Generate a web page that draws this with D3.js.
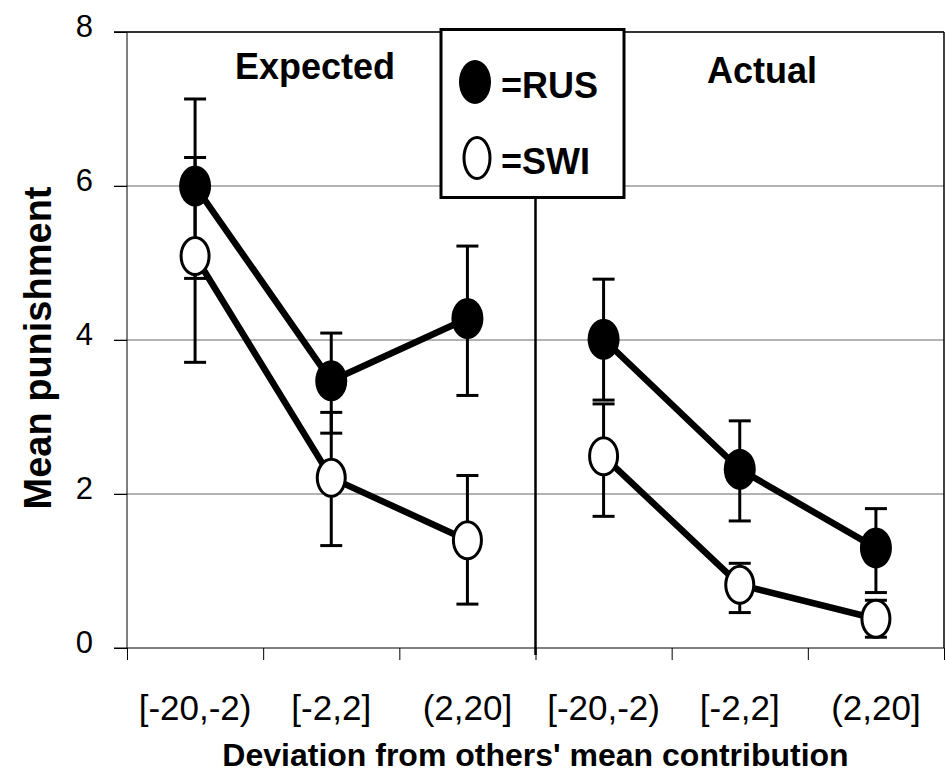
<!DOCTYPE html>
<html>
<head>
<meta charset="utf-8">
<script src="https://cdn.jsdelivr.net/npm/d3@7"></script>
<style>
  body { margin: 0; background: #fff; }
  svg { display: block; font-family: "Liberation Sans", Arial, sans-serif; }
</style>
</head>
<body>
<div id="chart"></div>
<script>
var chart_width = 946
var chart_height = 776

// data
var categories = ['[-20,-2)', '[-2,2]', '(2,20]', '[-20,-2)', '[-2,2]', '(2,20]']
var panels = ['Expected', 'Actual']
var rus_mean = [6.00, 3.47, 4.28, 4.01, 2.32, 1.30]
var rus_low = [4.80, 2.79, 3.28, 3.22, 1.65, 0.72]
var rus_high = [7.13, 4.09, 5.22, 4.79, 2.95, 1.81]
var swi_mean = [5.09, 2.21, 1.40, 2.49, 0.82, 0.38]
var swi_low = [3.71, 1.33, 0.57, 1.71, 0.46, 0.14]
var swi_high = [6.37, 3.06, 2.24, 3.17, 1.10, 0.62]
var y_ticks = [0, 2, 4, 6, 8]

var plot_left = 127, plot_right = 944, plot_top = 32, plot_bottom = 648

var svg = d3.select('#chart')
  .append('svg')
  .attr('width', chart_width)
  .attr('height', chart_height)

var x_scale = d3.scaleBand()
  .domain(d3.range(categories.length))
  .range([plot_left, plot_right])

var x_edge = d3.scaleLinear()
  .domain([0, categories.length])
  .range([plot_left, plot_right])

var y_scale = d3.scaleLinear()
  .domain([0, 8])
  .range([plot_bottom, plot_top])

var cx = i => x_scale(i) + x_scale.bandwidth() / 2

// gridlines
svg.append('g')
  .selectAll('line')
  .data(y_ticks.filter(d => d > 0))
  .join('line')
  .attr('x1', plot_left - 13)
  .attr('x2', plot_right)
  .attr('y1', d => y_scale(d))
  .attr('y2', d => y_scale(d))
  .attr('stroke', d => d == 8 ? '#333' : '#666')
  .attr('stroke-width', d => d == 8 ? 2 : 1)

// right border of plot area
svg.append('line')
  .attr('x1', plot_right).attr('x2', plot_right)
  .attr('y1', plot_top).attr('y2', plot_bottom)
  .attr('stroke', '#000')
  .attr('stroke-width', 1.5)

// y axis
var y_axis = d3.axisLeft(y_scale)
  .tickValues(y_ticks)
  .tickSize(13)
  .tickPadding(21)
svg.append('g')
  .attr('transform', 'translate(' + plot_left + ',0)')
  .call(y_axis)
  .call(g => g.select('.domain').attr('d', 'M0,' + plot_top + 'V' + plot_bottom))
  .call(g => g.selectAll('text')
    .attr('font-size', 31)
    .attr('font-family', '"Liberation Sans", Arial, sans-serif')
    .attr('dy', '0.13em'))

// x axis, ticks on the band edges
var x_axis = d3.axisBottom(x_edge)
  .tickValues(d3.range(categories.length + 1))
  .tickSize(12)
  .tickFormat('')
svg.append('g')
  .attr('transform', 'translate(0,' + plot_bottom + ')')
  .call(x_axis)
  .call(g => g.select('.domain').attr('d', 'M' + (plot_left - 13) + ',0H' + plot_right))

svg.append('g')
  .selectAll('text')
  .data(categories)
  .join('text')
  .attr('x', (d, i) => cx(i))
  .attr('y', 720)
  .attr('text-anchor', 'middle')
  .attr('font-size', 35)
  .text(d => d)

// separator between panels
svg.append('line')
  .attr('x1', x_edge(3)).attr('x2', x_edge(3))
  .attr('y1', 197).attr('y2', plot_bottom + 7)
  .attr('stroke', '#000')
  .attr('stroke-width', 2.5)

function series(mean, low, high) {
  return mean.map((m, i) => ({ i: i, panel: Math.floor(i / 3), mean: m, low: low[i], high: high[i] }))
}
var rus = series(rus_mean, rus_low, rus_high)
var swi = series(swi_mean, swi_low, swi_high)

// error bars
function error_bars(data) {
  var g = svg.append('g').attr('stroke', '#000').attr('stroke-width', 3)
  g.selectAll('.bar').data(data).join('line')
    .attr('x1', d => cx(d.i)).attr('x2', d => cx(d.i))
    .attr('y1', d => y_scale(d.low)).attr('y2', d => y_scale(d.high))
  g.selectAll('.cap').data(data.flatMap(d => [[d.i, d.low], [d.i, d.high]])).join('line')
    .attr('x1', d => cx(d[0]) - 11).attr('x2', d => cx(d[0]) + 11)
    .attr('y1', d => y_scale(d[1])).attr('y2', d => y_scale(d[1]))
}
error_bars(rus)
error_bars(swi)

// connecting lines, one per panel
var line = d3.line()
  .x(d => cx(d.i))
  .y(d => y_scale(d.mean))

;[rus, swi].forEach(function(s) {
  panels.forEach(function(p, k) {
    svg.append('path')
      .datum(s.filter(d => d.panel == k))
      .attr('fill', 'none')
      .attr('stroke', '#000')
      .attr('stroke-width', 6.5)
      .attr('stroke-linejoin', 'round')
      .attr('d', line)
  })
})

// markers
svg.append('g').selectAll('ellipse').data(swi).join('ellipse')
  .attr('cx', d => cx(d.i)).attr('cy', d => y_scale(d.mean))
  .attr('rx', 14).attr('ry', 18.5)
  .attr('fill', '#fff').attr('stroke', '#000').attr('stroke-width', 3)

svg.append('g').selectAll('ellipse').data(rus).join('ellipse')
  .attr('cx', d => cx(d.i)).attr('cy', d => y_scale(d.mean))
  .attr('rx', 16).attr('ry', 20.5)
  .attr('fill', '#000')

// panel labels
svg.append('text')
  .attr('x', 235).attr('y', 79)
  .attr('font-size', 36).attr('font-weight', 'bold')
  .text(panels[0])
svg.append('text')
  .attr('x', 707).attr('y', 83)
  .attr('font-size', 36).attr('font-weight', 'bold')
  .text(panels[1])

// legend
var legend = svg.append('g')
legend.append('rect')
  .attr('x', 441).attr('y', 29.5)
  .attr('width', 183).attr('height', 168)
  .attr('fill', '#fff').attr('stroke', '#000').attr('stroke-width', 3)
legend.append('ellipse')
  .attr('cx', 475).attr('cy', 82).attr('rx', 16).attr('ry', 22)
  .attr('fill', '#000')
legend.append('ellipse')
  .attr('cx', 477).attr('cy', 158).attr('rx', 13).attr('ry', 20.5)
  .attr('fill', '#fff').attr('stroke', '#000').attr('stroke-width', 3)
legend.append('text')
  .attr('x', 501).attr('y', 98)
  .attr('font-size', 36).attr('font-weight', 'bold')
  .text('=RUS')
legend.append('text')
  .attr('x', 501).attr('y', 174)
  .attr('font-size', 36).attr('font-weight', 'bold')
  .text('=SWI')

// axis titles
svg.append('text')
  .attr('x', (plot_left + plot_right) / 2).attr('y', 766)
  .attr('text-anchor', 'middle')
  .attr('font-size', 32).attr('font-weight', 'bold')
  .text("Deviation from others' mean contribution")

svg.append('text')
  .attr('transform', 'translate(51,348) rotate(-90)')
  .attr('text-anchor', 'middle')
  .attr('font-size', 38).attr('font-weight', 'bold')
  .text('Mean punishment')
</script>
</body>
</html>
